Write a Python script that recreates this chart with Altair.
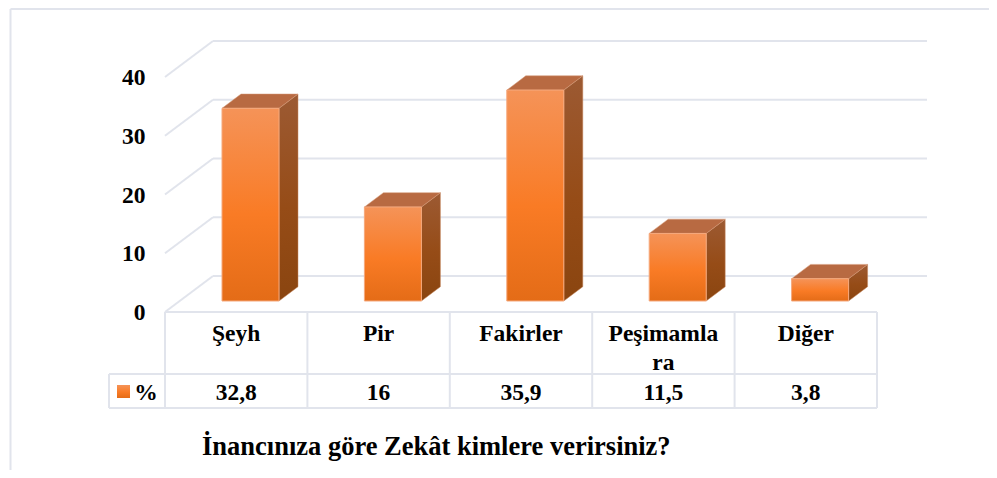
import altair as alt
import pandas as pd

categories = ["Şeyh", "Pir", "Fakirler", "Peşimamla\nra", "Diğer"]
values = [32.8, 16, 35.9, 11.5, 3.8]
value_labels = ["32,8", "16", "35,9", "11,5", "3,8"]
y_ticks = [0, 10, 20, 30, 40]
series_name = "%"
title_text = "İnancınıza göre Zekât kimlere verirsiniz?"

W, H = 981, 462
PX_PER_CAT = 142.4
PX_PER_VAL = 5.875


def u(px):
    return (px - 165) / PX_PER_CAT


def v(py):
    return (301 - py) / PX_PER_VAL


xs = alt.Scale(domain=[u(8), u(8 + W)], range=[0, W], nice=False, zero=False)
ys = alt.Scale(domain=[v(8 + H), v(8)], range=[H, 0], nice=False, zero=False)

FONT = "Liberation Serif"
FS = 23.5
LINE = "#E1E4EC"

X = alt.X("x:Q", scale=xs, axis=None)
Y = alt.Y(
    "y:Q",
    scale=ys,
    title=None,
    axis=alt.Axis(
        values=y_ticks,
        domain=False,
        ticks=False,
        grid=False,
        offset=-137,
        labelPadding=0,
        labelOffset=18.5,
        labelBaseline="alphabetic",
        labelFont=FONT,
        labelFontSize=FS,
        labelFontWeight="bold",
        labelColor="black",
        labelOverlap=False,
        labelFlush=False,
    ),
)
X2 = alt.X2("x2:Q")
Y2 = alt.Y2("y2:Q")

# back wall / floor lines
front_shift = v(312)
back_shift = v(276)
back_left = u(213)
back_right = u(927)
grid_rows = []
for t in y_ticks:
    grid_rows.append(dict(x=u(165), x2=back_left, y=t + front_shift, y2=t + back_shift))
    grid_rows.append(dict(x=back_left, x2=back_right, y=t + back_shift, y2=t + back_shift))
grid_df = pd.DataFrame(grid_rows)

grid_layer = alt.Chart(grid_df).mark_rule(color=LINE, strokeWidth=2).encode(x=X, x2=X2, y=Y, y2=Y2)

# data table frame
n = len(categories)
row0, row1, row2 = v(312), v(374), v(408)
leg_left = u(109)
table_rows = [
    dict(x=0, x2=n, y=row0, y2=row0),
    dict(x=leg_left, x2=n, y=row1, y2=row1),
    dict(x=leg_left, x2=n, y=row2, y2=row2),
    dict(x=leg_left, x2=leg_left, y=row1, y2=row2),
]
for i in range(n + 1):
    table_rows.append(dict(x=i, x2=i, y=row0, y2=row2))
# outer frame of the chart
frame_top = v(9)
frame_bottom = v(8 + H)
table_rows.append(dict(x=u(10.5), x2=u(10.5), y=frame_top, y2=frame_bottom))
table_rows.append(dict(x=u(10.5), x2=u(8 + W), y=frame_top, y2=frame_top))
table_layer = alt.Chart(pd.DataFrame(table_rows)).mark_rule(color=LINE, strokeWidth=2).encode(x=X, x2=X2, y=Y, y2=Y2)

# 3D bars
bar_left = u(222)
bar_w = 57 / PX_PER_CAT
dx = 19 / PX_PER_CAT
dy = 14.3 / PX_PER_VAL

front_rows, side_rows, top_rows = [], [], []
for i, (c, val) in enumerate(zip(categories, values)):
    l = bar_left + i
    r = l + bar_w
    front_rows.append(dict(x=l, x2=r, y=0, y2=val))
    side_rows.append(dict(c=c, x=r, y=0, y2=val))
    side_rows.append(dict(c=c, x=r + dx, y=dy, y2=val + dy))
    top_rows.append(dict(c=c, y=val, x=l, x2=r))
    top_rows.append(dict(c=c, y=val + dy, x=l + dx, x2=r + dx))

front_grad = alt.Gradient(
    gradient="linear", x1=0, y1=0, x2=0, y2=1,
    stops=[
        alt.GradientStop(offset=0, color="#F59358"),
        alt.GradientStop(offset=0.55, color="#F97B25"),
        alt.GradientStop(offset=1, color="#E46C17"),
    ],
)
side_grad = alt.Gradient(
    gradient="linear", x1=0, y1=0, x2=0, y2=1,
    stops=[
        alt.GradientStop(offset=0, color="#9C5A33"),
        alt.GradientStop(offset=0.55, color="#964C17"),
        alt.GradientStop(offset=1, color="#8A4510"),
    ],
)

side_layer = alt.Chart(pd.DataFrame(side_rows)).mark_area(
    orient="vertical", color=side_grad, stroke="#C98A63", strokeWidth=0.5
).encode(x=X, y=Y, y2=Y2, detail="c:N")
top_layer = alt.Chart(pd.DataFrame(top_rows)).mark_area(
    orient="horizontal", color="#B86A42", stroke="#D49A78", strokeWidth=0.5
).encode(y=Y, x=X, x2=X2, detail="c:N")
front_layer = alt.Chart(pd.DataFrame(front_rows)).mark_rect(
    color=front_grad, stroke="#F5A87C", strokeWidth=1
).encode(x=X, x2=X2, y=Y, y2=Y2)

# legend key of the table
swatch_df = pd.DataFrame([dict(x=u(117), x2=u(130), y=v(398), y2=v(385))])
swatch_layer = alt.Chart(swatch_df).mark_rect(color=front_grad).encode(x=X, x2=X2, y=Y, y2=Y2)


def text_layer(df):
    return alt.Chart(pd.DataFrame(df)).mark_text(
        font=FONT, fontSize=FS, fontWeight="bold", color="black",
        align="center", baseline="alphabetic", lineBreak="\n", lineHeight=29,
    ).encode(x=X, y=Y, text="t:N")


cat_text = text_layer([dict(x=i + 0.5, y=v(341), t=c) for i, c in enumerate(categories)])
val_text = text_layer(
    [dict(x=i + 0.5, y=v(400), t=c) for i, c in enumerate(value_labels)] + [dict(x=u(146), y=v(400), t=series_name)]
)

chart = alt.layer(
    grid_layer, table_layer, side_layer, top_layer, front_layer, swatch_layer, cat_text, val_text
).properties(
    width=W,
    height=H,
    padding=0,
    autosize=alt.AutoSizeParams(type="none"),
    background="white",
    title=alt.TitleParams(
        title_text,
        orient="bottom",
        anchor="start",
        offset=0,
        dx=194,
        dy=-37,
        font=FONT,
        fontSize=26.5,
        fontWeight="bold",
        color="black",
    ),
).configure_view(stroke=None)

chart.save("out.html", embed_options={"renderer": "svg", "actions": False})
